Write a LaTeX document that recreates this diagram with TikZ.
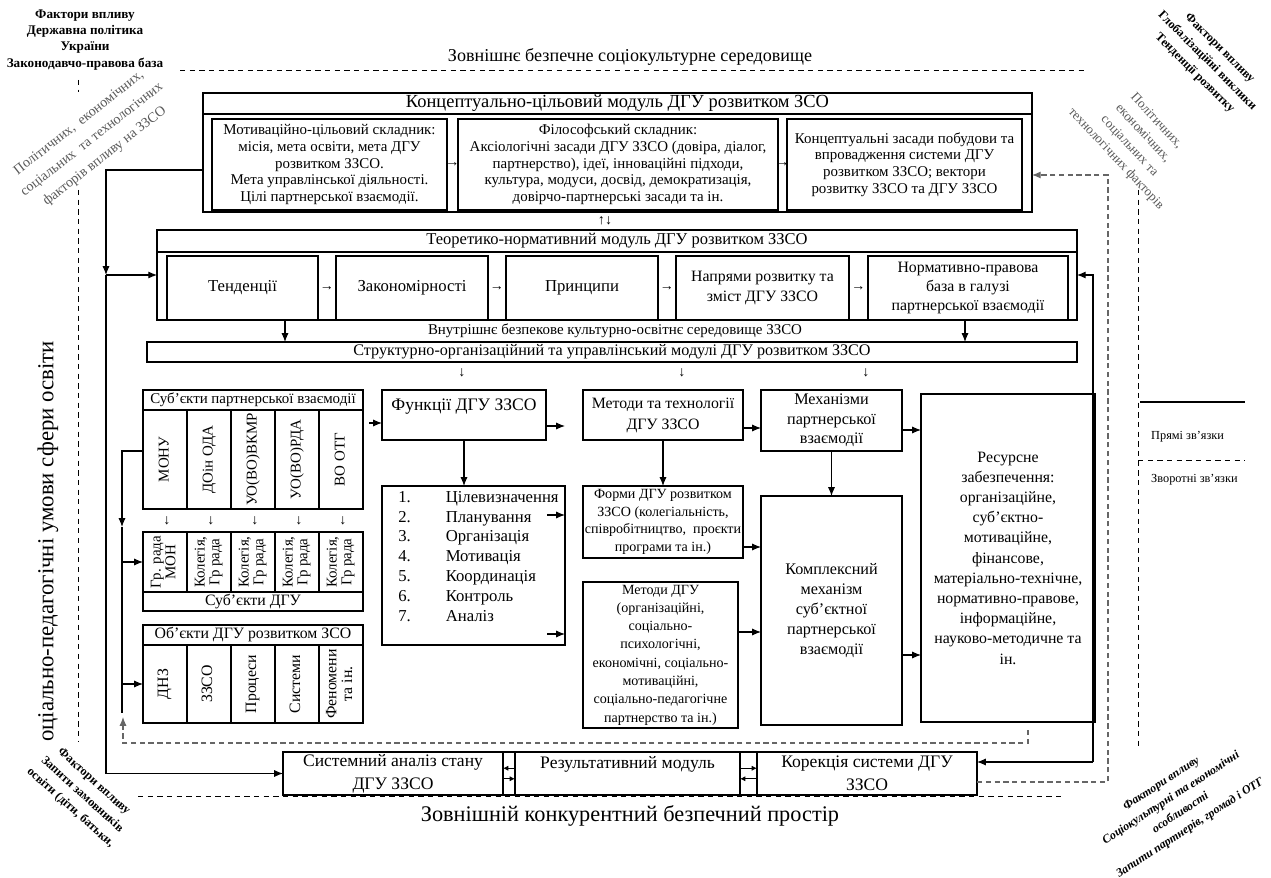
\documentclass[tikz,border=0pt]{standalone}
\usepackage{fontspec}
\setmainfont{Liberation Serif}
\usepackage{graphicx}
\usetikzlibrary{arrows.meta}
\newcommand{\fsz}[2]{\fontsize{#1}{#2}\selectfont}
\newcommand{\vtxt}[1]{\rotatebox{90}{\begin{tabular}{@{}c@{}}#1\end{tabular}}}

\begin{document}
\begin{tikzpicture}[x=0.02cm, y=-0.02cm, >={Latex[length=5pt,width=4pt]},
    box/.style={draw, line width=0.7pt, inner sep=0pt, outer sep=0pt, align=center},
    lnk/.style={line width=0.6pt},
    fbk/.style={draw=black!60, line width=0.6pt, dash pattern=on 3pt off 2pt},
    bnd/.style={line width=0.5pt, dash pattern=on 3pt off 2.5pt},
    glyph/.style={inner sep=0pt, font=\fsz{8}{9}}]

    \useasboundingbox (0,0) rectangle (1271,878);

    % outer environment
    \node [align=center, font=\bfseries\fsz{7.5}{9.2}] (infTL) at (85,40) {Фактори впливу\\Державна політика\\України\\Законодавчо-правова база};
    \node [font=\fsz{10.3}{12}] (envTop) at (630,57) {Зовнішнє безпечне соціокультурне середовище};
    \coordinate (bndTL) at (180,70);
    \coordinate (bndTR) at (1088,70);
    \draw [bnd] (bndTL) -- (bndTR);
    \node [rotate=38, align=center, text=black!65, font=\fsz{8}{12}] (polTL) at (92,140) {Політичних,~~економічних,\\соціальних~~та технологічних\\факторів впливу на ЗЗСО};
    \node [rotate=-45, align=center, font=\bfseries\fsz{7}{10}] (infTR) at (1207,61) {Фактори впливу\\Глобалізаційні виклики\\Тенденції розвитку};
    \node [rotate=-47, align=center, text=black!65, font=\fsz{7.5}{10.5}] (polTR) at (1136,140) {Політичних,\\економічних,\\соціальних та\\технологічних факторів};
    \node [rotate=-42, align=center, font=\bfseries\fsz{7}{10}] (infBL) at (82,795) {Фактори впливу\\Запити замовників\\освіти (діти, батьки,};
    \node [rotate=33, align=center, font=\bfseries\itshape\fsz{6.8}{10}] (infBR) at (1176,806) {Фактори впливу\\Соціокультурні та економічні\\особливості\\Запити партнерів, громад і ОТГ};
    \begin{scope}
        \clip (0,190) rectangle (76,742);
        \node [rotate=90, font=\fsz{13}{15}] (envLeft) at (48,549) {Соціально-педагогічні умови сфери освіти};
    \end{scope}
    \coordinate (bndLa) at (78,80);
    \coordinate (bndLb) at (78,92);
    \coordinate (bndLc) at (78,190);
    \coordinate (bndLd) at (78,742);
    \draw [bnd] (bndLa) -- (bndLb);
    \draw [bnd] (bndLc) -- (bndLd);
    \coordinate (bndRa) at (1138,190);
    \coordinate (bndRb) at (1138,750);
    \draw [bnd] (bndRa) -- (bndRb);
    \coordinate (bndBL) at (138,796);
    \coordinate (bndBR) at (1065,796);
    \draw [bnd] (bndBL) -- (bndBR);
    \node [font=\fsz{12.7}{14}] (envBot) at (630,816) {Зовнішній конкурентний безпечний простір};

    % legend
    \coordinate (lgDa) at (1140,402);
    \coordinate (lgDb) at (1245,402);
    \draw [lnk] (lgDa) -- (lgDb);
    \node [anchor=west, font=\fsz{7}{8}] (lgDir) at (1145,437) {Прямі зв’язки};
    \coordinate (lgFa) at (1138,460);
    \coordinate (lgFb) at (1245,460);
    \draw [bnd] (lgFa) -- (lgFb);
    \node [anchor=west, font=\fsz{7}{8}] (lgFbk) at (1145,480) {Зворотні зв’язки};

    % conceptual module
    \node [box, minimum width=16.58cm, minimum height=2.38cm] (cmod) at (617.5,152.5) {};
    \node [box, minimum width=16.58cm, minimum height=0.42cm, font=\fsz{10.5}{12}] (cmodH) at (617.5,103.5) {Концептуально-цільовий модуль ДГУ розвитком ЗСО};
    \node [box, minimum width=4.70cm, minimum height=1.82cm, font=\fsz{8.5}{9.5}] (cA) at (329.5,164.5) {Мотиваційно-цільовий складник:\\місія, мета освіти, мета ДГУ\\розвитком ЗЗСО.\\Мета управлінської діяльності.\\Цілі партнерської взаємодії.};
    \node [box, minimum width=6.40cm, minimum height=1.82cm, font=\fsz{8.5}{9.5}] (cB) at (618,164.5) {Філософський складник:\\Аксіологічні засади ДГУ ЗЗСО (довіра, діалог,\\партнерство), ідеї, інноваційні підходи,\\культура, модуси, досвід, демократизація,\\довірчо-партнерські засади та ін.};
    \node [box, minimum width=4.70cm, minimum height=1.82cm, font=\fsz{8.5}{9.5}] (cC) at (904.5,164.5) {Концептуальні засади побудови та\\впровадження системи ДГУ\\розвитком ЗЗСО; вектори\\розвитку ЗЗСО та ДГУ ЗЗСО};
    \node [glyph] (aAB) at (452.5,165) {→};
    \node [glyph] (aBC) at (782.5,165) {→};
    \node [glyph] (aCT) at (605,221) {↑↓};

    % theoretical module
    \node [box, minimum width=18.40cm, minimum height=1.80cm] (tmod) at (617,275) {};
    \node [box, minimum width=18.40cm, minimum height=0.44cm, font=\fsz{9.4}{11}] (tmodH) at (617,241) {Теоретико-нормативний модуль ДГУ розвитком ЗЗСО};
    \node [box, minimum width=3.02cm, minimum height=1.28cm, font=\fsz{9.5}{11}] (t1) at (242.5,288) {Тенденції};
    \node [box, minimum width=3.04cm, minimum height=1.28cm, font=\fsz{9.5}{11}] (t2) at (412,288) {Закономірності};
    \node [box, minimum width=3.04cm, minimum height=1.28cm, font=\fsz{9.5}{11}] (t3) at (582,288) {Принципи};
    \node [box, minimum width=3.46cm, minimum height=1.28cm, font=\fsz{9}{11}] (t4) at (762.5,288) {Напрями розвитку та\\зміст ДГУ ЗЗСО};
    \node [box, minimum width=4.00cm, minimum height=1.28cm, font=\fsz{9}{11}] (t5) at (968,288) {Нормативно-правова\\база в галузі\\партнерської взаємодії};
    \node [glyph] (a12) at (327,289) {→};
    \node [glyph] (a23) at (497,289) {→};
    \node [glyph] (a34) at (667,289) {→};
    \node [glyph] (a45) at (858.5,289) {→};

    % inner environment and structural module
    \node [font=\fsz{8.5}{10}] (envIn) at (615,331) {Внутрішнє безпекове культурно-освітнє середовище ЗЗСО};
    \node [box, minimum width=18.60cm, minimum height=0.40cm, font=\fsz{9.2}{11}] (smod) at (612,352) {Структурно-організаційний та управлінський модулі ДГУ розвитком ЗЗСО};
    \coordinate (dnL) at (285,320);
    \coordinate (dnR) at (965,320);
    \draw [lnk, ->] (dnL) -- (dnL |- smod.north);
    \draw [lnk, ->] (dnR) -- (dnR |- smod.north);
    \node [glyph] (s1) at (462,373) {↓};
    \node [glyph] (s2) at (682,373) {↓};
    \node [glyph] (s3) at (866,373) {↓};

    % subjects of partnership
    \node [box, minimum width=4.40cm, minimum height=0.40cm, font=\fsz{8.5}{10}] (spH) at (253,400) {Суб’єкти партнерської взаємодії};
    \node [box, minimum width=0.88cm, minimum height=1.98cm, font=\fsz{8.5}{10}] (sp1) at (165,459.5) {\vtxt{МОНУ}};
    \node [box, minimum width=0.88cm, minimum height=1.98cm, font=\fsz{8.5}{10}] (sp2) at (209,459.5) {\vtxt{ДОін ОДА}};
    \node [box, minimum width=0.88cm, minimum height=1.98cm, font=\fsz{8.5}{10}] (sp3) at (253,459.5) {\vtxt{УО(ВО)ВКМР}};
    \node [box, minimum width=0.88cm, minimum height=1.98cm, font=\fsz{8.5}{10}] (sp4) at (297,459.5) {\vtxt{УО(ВО)РДА}};
    \node [box, minimum width=0.88cm, minimum height=1.98cm, font=\fsz{8.5}{10}] (sp5) at (341,459.5) {\vtxt{ВО ОТГ}};
    \node [glyph] (d1) at (167,521) {↓};
    \node [glyph] (d2) at (211,521) {↓};
    \node [glyph] (d3) at (255,521) {↓};
    \node [glyph] (d4) at (299,521) {↓};
    \node [glyph] (d5) at (343,521) {↓};

    % subjects of management
    \node [box, minimum width=0.88cm, minimum height=1.20cm, font=\fsz{8.5}{8.5}] (sd1) at (165,562) {\vtxt{Гр. рада\\МОН}};
    \node [box, minimum width=0.88cm, minimum height=1.20cm, font=\fsz{8.5}{8.5}] (sd2) at (209,562) {\vtxt{Колегія,\\Гр рада}};
    \node [box, minimum width=0.88cm, minimum height=1.20cm, font=\fsz{8.5}{8.5}] (sd3) at (253,562) {\vtxt{Колегія,\\Гр рада}};
    \node [box, minimum width=0.88cm, minimum height=1.20cm, font=\fsz{8.5}{8.5}] (sd4) at (297,562) {\vtxt{Колегія,\\Гр рада}};
    \node [box, minimum width=0.88cm, minimum height=1.20cm, font=\fsz{8.5}{8.5}] (sd5) at (341,562) {\vtxt{Колегія,\\Гр рада}};
    \node [box, minimum width=4.40cm, minimum height=0.38cm, font=\fsz{9}{10}] (sdF) at (253,601.5) {Суб’єкти ДГУ};

    % objects
    \node [box, minimum width=4.40cm, minimum height=0.40cm, font=\fsz{9}{10}] (obH) at (253,635) {Об’єкти ДГУ розвитком ЗСО};
    \node [box, minimum width=0.88cm, minimum height=1.56cm, font=\fsz{9}{9}] (ob1) at (165,684) {\vtxt{ДНЗ}};
    \node [box, minimum width=0.88cm, minimum height=1.56cm, font=\fsz{9}{9}] (ob2) at (209,684) {\vtxt{ЗЗСО}};
    \node [box, minimum width=0.88cm, minimum height=1.56cm, font=\fsz{9}{9}] (ob3) at (253,684) {\vtxt{Процеси}};
    \node [box, minimum width=0.88cm, minimum height=1.56cm, font=\fsz{9}{9}] (ob4) at (297,684) {\vtxt{Системи}};
    \node [box, minimum width=0.88cm, minimum height=1.56cm, font=\fsz{9}{9}] (ob5) at (341,684) {\vtxt{Феномени\\та ін.}};

    % functions, methods, mechanisms
    \node [box, minimum width=3.28cm, minimum height=1.00cm, font=\fsz{10}{12}] (func) at (464,415) {Функції ДГУ ЗЗСО\\~};
    \node [box, minimum width=3.66cm, minimum height=3.18cm] (flist) at (473.5,565.5) {};
    \node [anchor=north west, inner sep=0pt, font=\fsz{9.5}{11.3}] (flistT) at (398,488) {\begin{tabular}{@{}p{27pt}@{}l@{}}
        1. & Цілевизначення\\
        2. & Планування\\
        3. & Організація\\
        4. & Мотивація\\
        5. & Координація\\
        6. & Контроль\\
        7. & Аналіз
    \end{tabular}};
    \node [box, minimum width=3.20cm, minimum height=1.00cm, font=\fsz{9}{12}] (mt) at (663,415) {Методи та технології\\ДГУ ЗЗСО};
    \node [box, minimum width=3.20cm, minimum height=1.44cm, font=\fsz{8}{10}] (forms) at (663,522) {Форми ДГУ розвитком\\ЗЗСО (колегіальність,\\співробітництво,~~проєкти\\програми та ін.)};
    \node [box, minimum width=3.10cm, minimum height=2.92cm, font=\fsz{8}{10.4}] (mdgu) at (660.5,655) {Методи ДГУ\\(організаційні,\\соціально-\\психологічні,\\економічні, соціально-\\мотиваційні,\\соціально-педагогічне\\партнерство та ін.)};
    \node [box, minimum width=2.82cm, minimum height=1.22cm, font=\fsz{9.2}{11}] (mech) at (831.5,420.5) {Механізми\\партнерської\\взаємодії};
    \node [box, minimum width=2.82cm, minimum height=4.58cm, font=\fsz{9.2}{11.3}] (kompl) at (831.5,610.5) {Комплексний\\механізм\\суб’єктної\\партнерської\\взаємодії};
    \node [box, minimum width=3.48cm, minimum height=6.56cm, font=\fsz{9}{11.5}] (res) at (1008,558) {Ресурсне\\забезпечення:\\організаційне,\\суб’єктно-\\мотиваційне,\\фінансове,\\матеріально-технічне,\\нормативно-правове,\\інформаційне,\\науково-методичне та\\ін.};

    \coordinate (fIn) at (369,423);
    \draw [lnk, ->] (fIn) -- (fIn -| func.west);
    \coordinate (fOut) at (565,426);
    \draw [lnk, ->] (fOut -| func.east) -- (fOut);
    \draw [lnk, ->] (func.south) -- (func.south |- flist.north);
    \coordinate (lOa) at (547,515);
    \coordinate (lOb) at (547,634);
    \draw [lnk, ->] (lOa) -- (lOa -| flist.east);
    \draw [lnk, ->] (lOb) -- (lOb -| flist.east);
    \coordinate (mtO) at (743,428);
    \draw [lnk, ->] (mtO) -- (mtO -| mech.west);
    \draw [lnk, ->] (mt.south) -- (forms.north);
    \coordinate (fmO) at (743,547);
    \draw [lnk, ->] (fmO) -- (fmO -| kompl.west);
    \coordinate (mdO) at (738,632);
    \draw [lnk, ->] (mdO) -- (mdO -| kompl.west);
    \draw [lnk, ->] (mech.south) -- (kompl.north);
    \coordinate (mrO) at (902,430);
    \draw [lnk, ->] (mrO) -- (mrO -| res.west);
    \coordinate (krO) at (902,655);
    \draw [lnk, ->] (krO) -- (krO -| res.west);

    % result row
    \node [box, minimum width=4.40cm, minimum height=0.86cm, font=\fsz{10}{13}] (sysA) at (393,773.5) {Системний аналіз стану\\ДГУ ЗЗСО};
    \node [box, minimum width=0.24cm, minimum height=0.86cm] (gapA) at (509,773.5) {};
    \node [box, minimum width=4.50cm, minimum height=0.86cm, font=\fsz{10}{13}] (resm) at (627.5,773.5) {Результативний модуль\\~};
    \node [box, minimum width=0.34cm, minimum height=0.86cm] (gapB) at (748.5,773.5) {};
    \node [box, minimum width=4.40cm, minimum height=0.86cm, font=\fsz{10}{13}] (kor) at (867,773.5) {Корекція системи ДГУ\\ЗЗСО};
    \draw [lnk, ->, >={Latex[length=3pt,width=3pt]}] ([yshift=3pt]gapA.east) -- ([yshift=3pt]gapA.west);
    \draw [lnk, ->, >={Latex[length=3pt,width=3pt]}] ([yshift=-3pt]gapA.west) -- ([yshift=-3pt]gapA.east);
    \draw [lnk, ->, >={Latex[length=3pt,width=3pt]}] ([yshift=3pt]gapB.west) -- ([yshift=3pt]gapB.east);
    \draw [lnk, ->, >={Latex[length=3pt,width=3pt]}] ([yshift=-3pt]gapB.east) -- ([yshift=-3pt]gapB.west);

    % left direct links
    \coordinate (lTop) at (106,170);
    \draw [lnk, ->] (lTop -| cmod.west) -- (lTop) -- (lTop |- tmod.west);
    \draw [lnk, ->] (lTop |- tmod.west) -- (tmod.west);
    \draw [lnk, ->] (lTop |- tmod.west) -- (lTop |- sysA.west) -- (sysA.west);
    \coordinate (sL) at (122,451);
    \coordinate (sM) at (122,527);
    \coordinate (sE) at (122,713);
    \draw [lnk, ->] (sL -| sp1.west) -- (sL) -- (sM);
    \draw [lnk] (sM) -- (sE);
    \draw [lnk, ->] (sL |- sd1.west) -- (sd1.west);
    \draw [lnk, ->] (sL |- ob1.west) -- (ob1.west);

    % right direct links
    \coordinate (rKor) at (1093,762);
    \draw [lnk, ->] (rKor) -- (rKor -| kor.east);
    \draw [lnk, ->] (rKor) -- (rKor |- tmod.east) -- (tmod.east);

    % feedback links
    \coordinate (fbR) at (1108,782);
    \coordinate (fbT) at (1108,175);
    \draw [fbk, ->] (fbR -| kor.east) -- (fbR) -- (fbT) -- (fbT -| cmod.east);
    \coordinate (fbIa) at (1028,730);
    \coordinate (fbIb) at (1028,743);
    \coordinate (fbIc) at (123,743);
    \coordinate (fbId) at (123,717);
    \draw [fbk, ->] (fbIa) -- (fbIb) -- (fbIc) -- (fbId);
\end{tikzpicture}
\end{document}
